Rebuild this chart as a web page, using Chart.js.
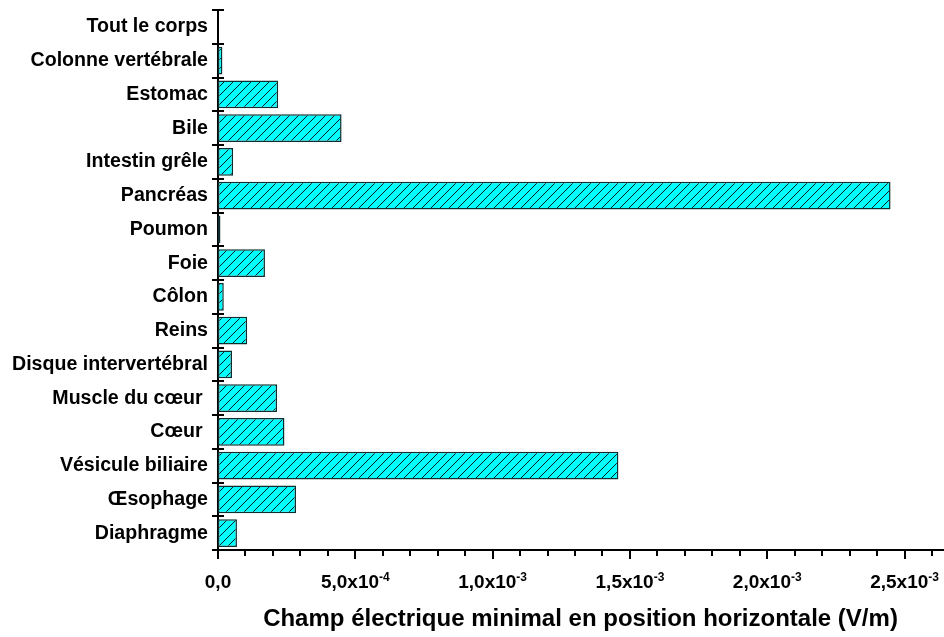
<!DOCTYPE html>
<html>
<head>
<meta charset="utf-8">
<script src="https://cdn.jsdelivr.net/npm/chart.js@4/dist/chart.umd.min.js"></script>
<style>
  html, body { margin: 0; padding: 0; background: #fff; }
  #wrap { width: 944px; height: 637px; }
</style>
</head>
<body>
<div id="wrap"><canvas id="organChart"></canvas></div>
<script>
const organs = [
  'Tout le corps', 'Colonne vertébrale', 'Estomac', 'Bile', 'Intestin grêle',
  'Pancréas', 'Poumon', 'Foie', 'Côlon', 'Reins', 'Disque intervertébral',
  'Muscle du cœur ', 'Cœur ', 'Vésicule biliaire', 'Œsophage', 'Diaphragme'
];
const minField = [
  0, 1.6e-5, 2.19e-4, 4.5e-4, 5.5e-5,
  2.449e-3, 9e-6, 1.71e-4, 2.1e-5, 1.06e-4, 5.1e-5,
  2.15e-4, 2.42e-4, 1.458e-3, 2.84e-4, 6.9e-5
];
const tickValues = [0, 5e-4, 1e-3, 1.5e-3, 2e-3, 2.5e-3];
const tickMantissa = ['0,0', '5,0', '1,0', '1,5', '2,0', '2,5'];
const tickExponent = ['', '-4', '-3', '-3', '-3', '-3'];
const minorStep = 1e-4;
const xMax = 2.64e-3;

const FONT = '"Liberation Sans", Arial, sans-serif';
const ctx = document.getElementById('organChart').getContext('2d');

function hatchPattern() {
  const c = document.createElement('canvas');
  c.width = 9;
  c.height = 9;
  const p = c.getContext('2d');
  p.fillStyle = '#00ffff';
  p.fillRect(0, 0, 9, 9);
  p.strokeStyle = '#0a2020';
  p.lineWidth = 1;
  p.beginPath();
  p.moveTo(-1, 10); p.lineTo(10, -1);
  p.moveTo(-1, 1); p.lineTo(1, -1);
  p.moveTo(8, 10); p.lineTo(10, 8);
  p.stroke();
  return ctx.createPattern(c, 'repeat');
}

// draws the tick marks and the x10^n labels
const axisDecor = {
  id: 'axisDecor',
  afterDraw(chart) {
    const x = chart.scales.x;
    const y = chart.scales.y;
    const c = chart.ctx;
    c.save();
    c.strokeStyle = '#000';
    c.lineWidth = 2;

    const nMinor = Math.round(xMax / minorStep);
    for (let k = 0; k <= nMinor; k++) {
      const px = Math.round(x.getPixelForValue(k * minorStep));
      const len = k % 5 === 0 ? 9 : 6;
      c.beginPath();
      c.moveTo(px, x.top);
      c.lineTo(px, x.top + len);
      c.stroke();
    }

    for (let i = 0; i <= organs.length; i++) {
      const py = Math.round(y.getPixelForValue(i - 0.5));
      c.beginPath();
      c.moveTo(y.right - 6, py);
      c.lineTo(y.right + 6, py);
      c.stroke();
    }

    c.fillStyle = '#000';
    c.textBaseline = 'alphabetic';
    tickValues.forEach((v, i) => {
      const px = x.getPixelForValue(v);
      const main = tickExponent[i] ? tickMantissa[i] + 'x10' : tickMantissa[i];
      c.font = 'bold 19px ' + FONT;
      const wMain = c.measureText(main).width;
      c.font = 'bold 12px ' + FONT;
      const wExp = tickExponent[i] ? c.measureText(tickExponent[i]).width : 0;
      const start = px - (wMain + wExp) / 2;
      const base = x.top + 38;
      c.font = 'bold 19px ' + FONT;
      c.textAlign = 'left';
      c.fillText(main, start, base);
      if (tickExponent[i]) {
        c.font = 'bold 12px ' + FONT;
        c.fillText(tickExponent[i], start + wMain, base - 7);
      }
    });
    c.restore();
  }
};

const chart = new Chart(ctx, {
  type: 'bar',
  data: {
    labels: organs,
    datasets: [
      {
        data: minField,
        backgroundColor: hatchPattern(),
        borderColor: '#0d2e2e',
        borderWidth: 1.5,
        borderSkipped: false,
        barPercentage: 0.82,
        categoryPercentage: 1
      }
    ]
  },
  options: {
    indexAxis: 'y',
    responsive: true,
    maintainAspectRatio: false,
    animation: false,
    layout: { padding: { top: 10, right: 1, left: 0, bottom: 0 } },
    plugins: {
      legend: { display: false },
      tooltip: { enabled: false }
    },
    scales: {
      x: {
        type: 'linear',
        min: 0,
        max: xMax,
        afterFit: s => { s.height = 87; s.paddingLeft = 0; s.paddingRight = 0; },
        ticks: { display: false, stepSize: 5e-4, includeBounds: false },
        grid: { display: false },
        border: { display: true, color: '#000', width: 2 },
        title: {
          display: true,
          text: 'Champ électrique minimal en position horizontale (V/m)',
          color: '#000',
          font: { family: FONT, size: 24, weight: 'bold' },
          padding: { top: 0, bottom: 3 }
        }
      },
      y: {
        afterFit: s => { s.width = 218; s.paddingTop = 0; s.paddingBottom = 0; },
        ticks: {
          color: '#000',
          padding: 10,
          autoSkip: false,
          font: { family: FONT, size: 19.6, weight: 'bold' }
        },
        grid: { display: false, drawTicks: false },
        border: { display: true, color: '#000', width: 2 }
      }
    }
  },
  plugins: [axisDecor]
});
</script>
</body>
</html>
